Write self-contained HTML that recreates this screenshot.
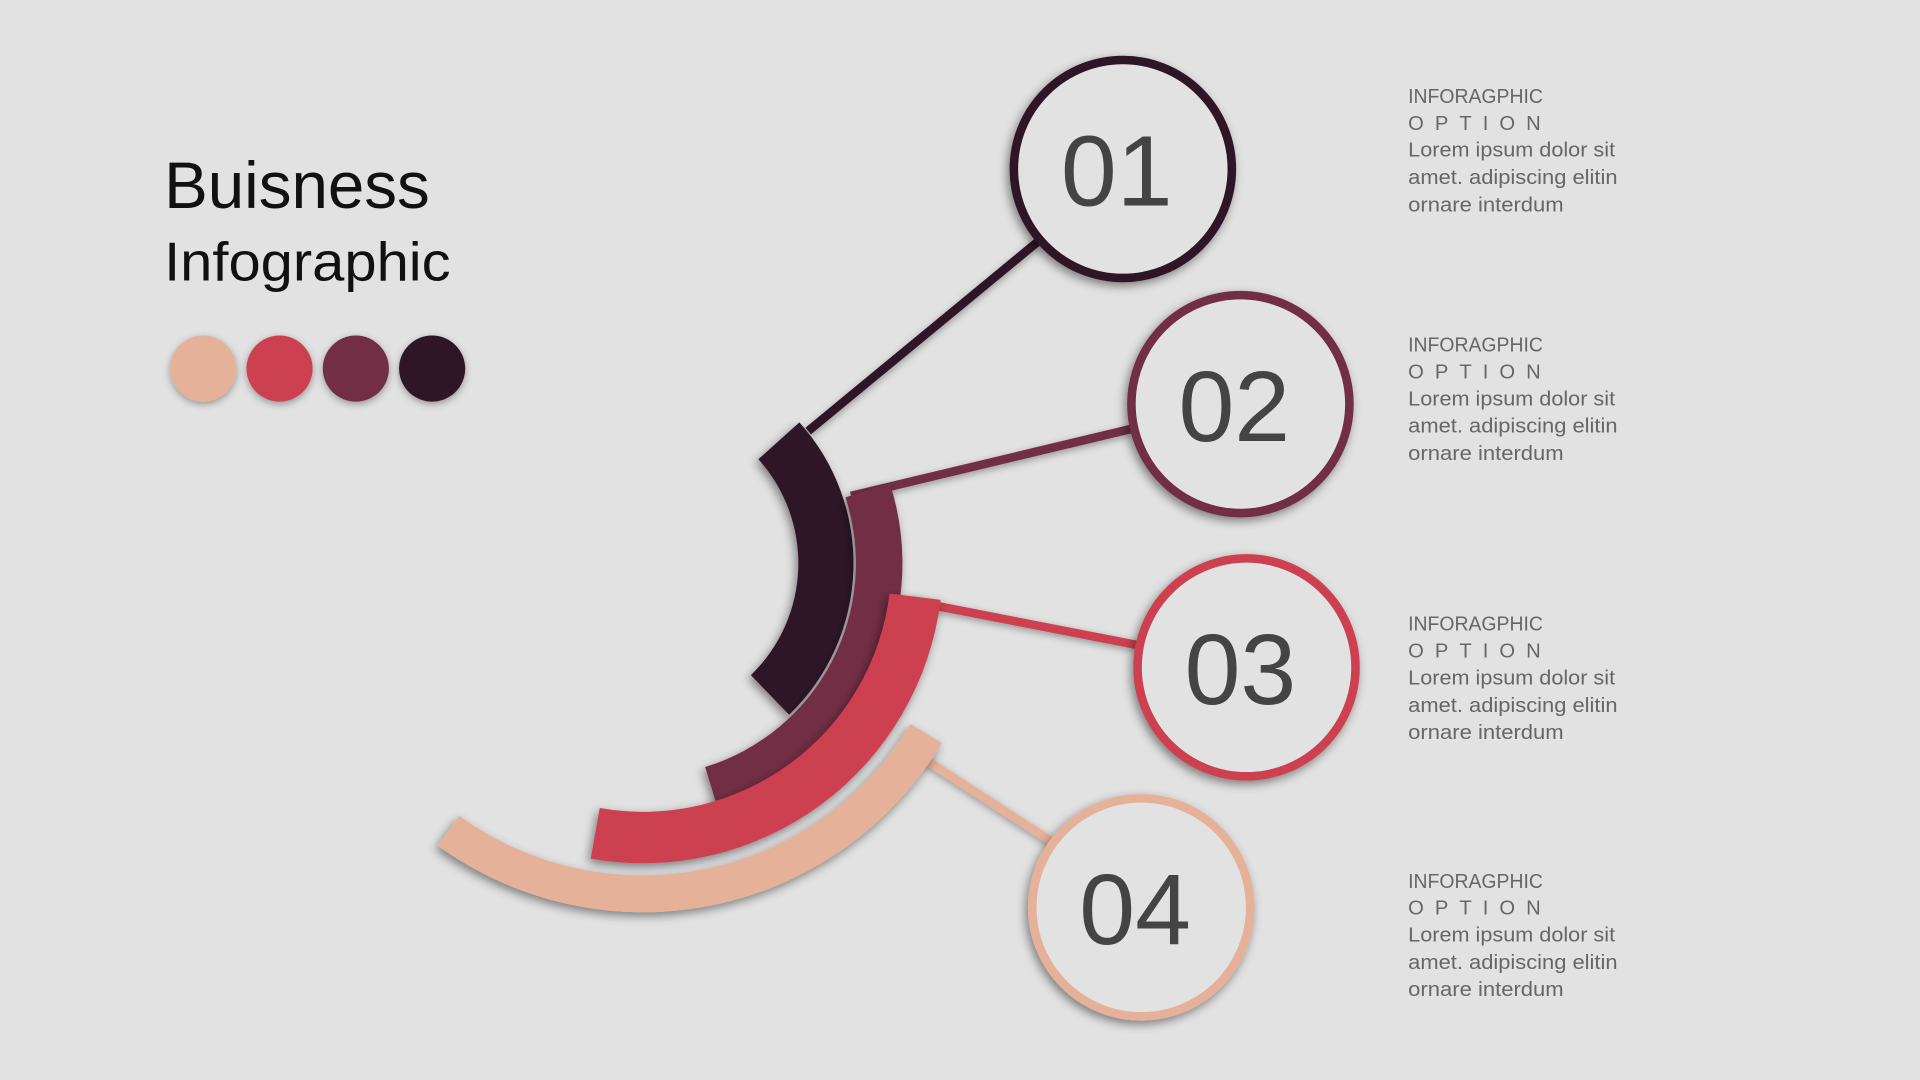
<!DOCTYPE html>
<html><head><meta charset="utf-8"><style>
html,body{margin:0;padding:0;background:#e2e2e2;}
svg{display:block;}
text{font-family:"Liberation Sans",sans-serif;}
</style></head><body>
<svg id="chart" width="1920" height="1080" viewBox="0 0 1568 882" xmlns="http://www.w3.org/2000/svg">
<defs>
<filter id="sh" x="-30%" y="-30%" width="160%" height="160%"><feDropShadow dx="-2" dy="3" stdDeviation="4" flood-color="#000" flood-opacity="0.45"/></filter>
<filter id="shs" x="-30%" y="-30%" width="160%" height="160%"><feDropShadow dx="0" dy="2" stdDeviation="3" flood-color="#000" flood-opacity="0.35"/></filter>
</defs>
<rect width="1568" height="882" fill="#e2e2e2"/>
<text x="134" y="170" font-size="54" fill="#111" textLength="217" lengthAdjust="spacingAndGlyphs">Buisness</text>
<text x="134" y="229" font-size="45" fill="#111" textLength="234" lengthAdjust="spacingAndGlyphs">Infographic</text>
<g id="swatches"></g>
<g id="lines"></g>
<g id="arcs"></g>
<g id="rings"></g>
<g id="texts"></g>
</svg>
<script>
const labels = ["01","02","03","04"];
const colors = ["#2e1428","#722e45","#cc4150","#e5b199"];
const startAngles = [-42,-18,7,31];
const endAngles = [46,73,100,126];
const innerRadii = [127,174,203,255];
const outerRadii = [172,212,245,285];
const ns="http://www.w3.org/2000/svg";
const CX=525, CY=460;
function mk(t,a,p){const e=document.createElementNS(ns,t);for(const k in a)e.setAttribute(k,a[k]);p.appendChild(e);return e;}
function pt(r,deg){const a=deg*Math.PI/180;return [CX+r*Math.cos(a),CY+r*Math.sin(a)];}
const swOrder=[3,2,1,0];
swOrder.forEach((ci,i)=>{
  const c=mk('circle',{cx:166+i*62.3,cy:301,r:27,fill:colors[ci],filter:'url(#shs)'},document.getElementById('swatches'));
  
  
});
const ringCx=[917,1013,1018,932], ringCy=[138,330,545,741];
const lineStart=[[660,352],[695,405],[740,490],[755,620]];
const lineEnd=[[848,197],[925,350],[930,527],[860,688]];
labels.forEach((l,i)=>{
  const ln=mk('line',{x1:lineStart[i][0],y1:lineStart[i][1],x2:lineEnd[i][0],y2:lineEnd[i][1],stroke:colors[i],'stroke-width':7,filter:'url(#shs)'},document.getElementById('lines'));
  
  
});
[3,0,1,2].forEach(i=>{
  const a=pt(outerRadii[i],startAngles[i]),b=pt(outerRadii[i],endAngles[i]),c=pt(innerRadii[i],endAngles[i]),d=pt(innerRadii[i],startAngles[i]);
  const lg=(endAngles[i]-startAngles[i])>180?1:0;
  const dd=`M${a} A${outerRadii[i]},${outerRadii[i]} 0 ${lg} 1 ${b} L${c} A${innerRadii[i]},${innerRadii[i]} 0 ${lg} 0 ${d} Z`;
  const p=mk('path',{d:dd,fill:colors[i],filter:'url(#sh)'},document.getElementById('arcs'));
  
  
});
labels.forEach((l,i)=>{
  const g=mk('g',{},document.getElementById('rings'));
  
  
  mk('circle',{cx:ringCx[i],cy:ringCy[i],r:89,fill:'#e2e2e2',stroke:colors[i],'stroke-width':7,filter:'url(#sh)'},g);
  const t=mk('text',{x:ringCx[i]-5,y:ringCy[i]+30,'font-size':82,fill:'#444','text-anchor':'middle'},g);
  t.textContent=l;
  
  
});
const textY=[78,281,509,719];
const body=["Lorem ipsum dolor sit","amet. adipiscing elitin","ornare interdum"];
labels.forEach((l,i)=>{
  const g=mk('g',{fill:'#666','font-size':16.5},document.getElementById('texts'));
  
  
  const y=textY[i];
  let t=mk('text',{x:1150,y:y+6,textLength:110,lengthAdjust:'spacingAndGlyphs'},g);t.textContent="INFORAGPHIC";
  t=mk('text',{x:1150,y:y+28,'letter-spacing':'9'},g);t.textContent="OPTION";
  body.forEach((s,k)=>{const tt=mk('text',{x:1150,y:y+50+k*22.3,textLength:[169,171,127][k],lengthAdjust:'spacingAndGlyphs'},g);tt.textContent=s;});
});
</script>
</body></html>
